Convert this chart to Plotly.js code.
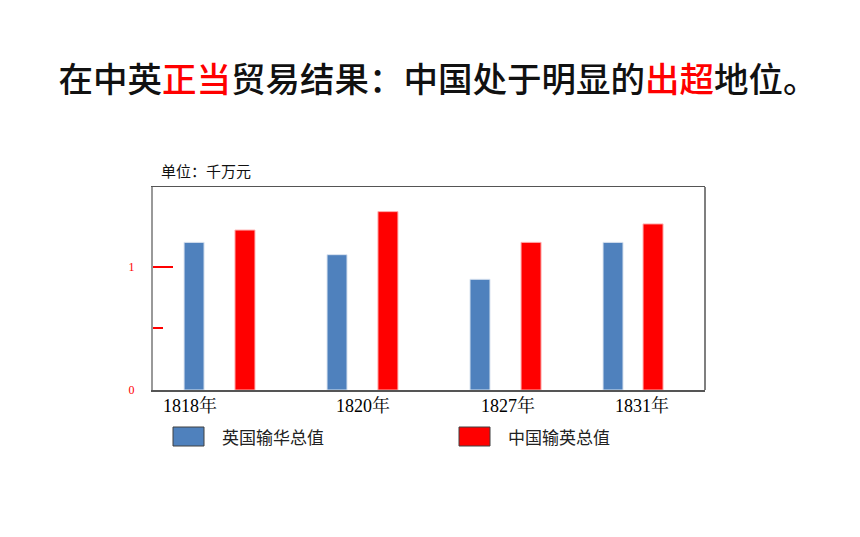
<!DOCTYPE html>
<html>
<head>
<meta charset="utf-8">
<script src="https://cdn.plot.ly/plotly-3.0.1.min.js"></script>
<style>html,body{margin:0;padding:0;background:#fff;}#chart{width:860px;height:537px;}</style>
</head>
<body>
<div id="chart"></div>
<script>
var years = ["1818年", "1820年", "1827年", "1831年"];
var britainToChina = [1.20, 1.10, 0.90, 1.20];
var chinaToBritain = [1.30, 1.45, 1.20, 1.35];
var seriesNames = ["英国输华总值", "中国输英总值"];
var yTickVals = [0, 1];
var yTickText = ["0", "1"];

var blue = "#4F81BD", red = "#FF0000";
var cjk = "'Noto Sans CJK SC', 'Noto Sans', sans-serif";
var serif = "'Liberation Serif', 'Noto Serif CJK SC', 'Noto Sans CJK SC', serif";

// per-bar horizontal placement inside each category slot (style only)
var blueOffsets = [-0.275, -0.239, -0.203, -0.239];
var redOffsets = [0.094, 0.130, 0.167, 0.051];

var traces = [
  {type: "bar", x: years, y: britainToChina, name: seriesNames[0],
   marker: {color: blue, line: {color: "#dbe4f0", width: 1}},
   width: 0.145, offset: blueOffsets, showlegend: false, hoverinfo: "x+y"},
  {type: "bar", x: years, y: chinaToBritain, name: seriesNames[1],
   marker: {color: red, line: {color: "#ffb0b0", width: 1}},
   width: 0.145, offset: redOffsets, showlegend: false, hoverinfo: "x+y"}
];

var W = 860, H = 537;
var L = 153, R = 705, T = 187, B = 390;
function px(x) { return (x - L) / (R - L); }
function py(y) { return (B - y) / (B - T); }

var labelShift = [-32, 3, 10, 6];
var annotations = years.map(function (yr, i) {
  return {x: yr, y: 0, xref: "x", yref: "y", text: yr, showarrow: false,
          yanchor: "top", yshift: -3, xshift: labelShift[i],
          font: {family: serif, size: 18, color: "#000"}};
});
annotations.push({x: px(159), y: py(170), xref: "paper", yref: "paper", text: "单位：千万元",
  xanchor: "left", yanchor: "middle", showarrow: false, font: {family: cjk, size: 15, color: "#111"}});

var legendItems = [
  {x0: 173, color: blue, text: seriesNames[0], tx: 220},
  {x0: 459, color: red, text: seriesNames[1], tx: 506}
];
var shapes = [
  {type: "line", xref: "paper", yref: "paper", x0: 1, x1: 1, y0: 0, y1: 1,
   line: {color: "#555", width: 1.5}}
];
legendItems.forEach(function (it) {
  shapes.push({type: "rect", xref: "paper", yref: "paper",
    x0: px(it.x0), x1: px(it.x0 + 31), y0: py(446), y1: py(427),
    fillcolor: it.color, line: {color: "#404040", width: 1}});
  annotations.push({x: px(it.tx), y: py(436.5), xref: "paper", yref: "paper",
    xanchor: "left", yanchor: "middle", text: it.text, showarrow: false,
    font: {family: cjk, size: 17, color: "#222"}});
});

var titleText = "在中英<span style='color:#ff0000'>正当</span>贸易结果：中国处于明显的<span style='color:#ff0000'>出超</span>地位。";

var layout = {
  width: W, height: H,
  margin: {l: L, r: W - R, t: T, b: H - B},
  paper_bgcolor: "#fff", plot_bgcolor: "#fff",
  title: {
    text: titleText,
    x: 438 / W, xanchor: "center", xref: "container",
    y: 1 - 80 / H, yref: "container", yanchor: "middle",
    font: {family: cjk, size: 34.5, color: "#111", weight: 500}
  },
  xaxis: {type: "category", range: [-0.5, 3.5], showticklabels: false,
          ticks: "", showgrid: false, zeroline: false,
          showline: true, linecolor: "#555", linewidth: 1.5, mirror: true, fixedrange: true},
  yaxis: {range: [0, 1.65], tickvals: yTickVals, ticktext: yTickText,
          ticks: "inside", ticklen: 20, tickwidth: 2, tickcolor: red,
          ticklabelstandoff: 14,
          minor: {tickvals: [0.5], ticks: "inside", ticklen: 10, tickwidth: 2, tickcolor: red, showgrid: false},
          tickfont: {family: serif, size: 12, color: red},
          showgrid: false, zeroline: false,
          showline: true, linecolor: "#999", linewidth: 2, mirror: false, fixedrange: true},
  barmode: "group",
  annotations: annotations,
  shapes: shapes,
  showlegend: false
};

Plotly.newPlot("chart", traces, layout, {displayModeBar: false, staticPlot: true});
</script>
</body>
</html>
